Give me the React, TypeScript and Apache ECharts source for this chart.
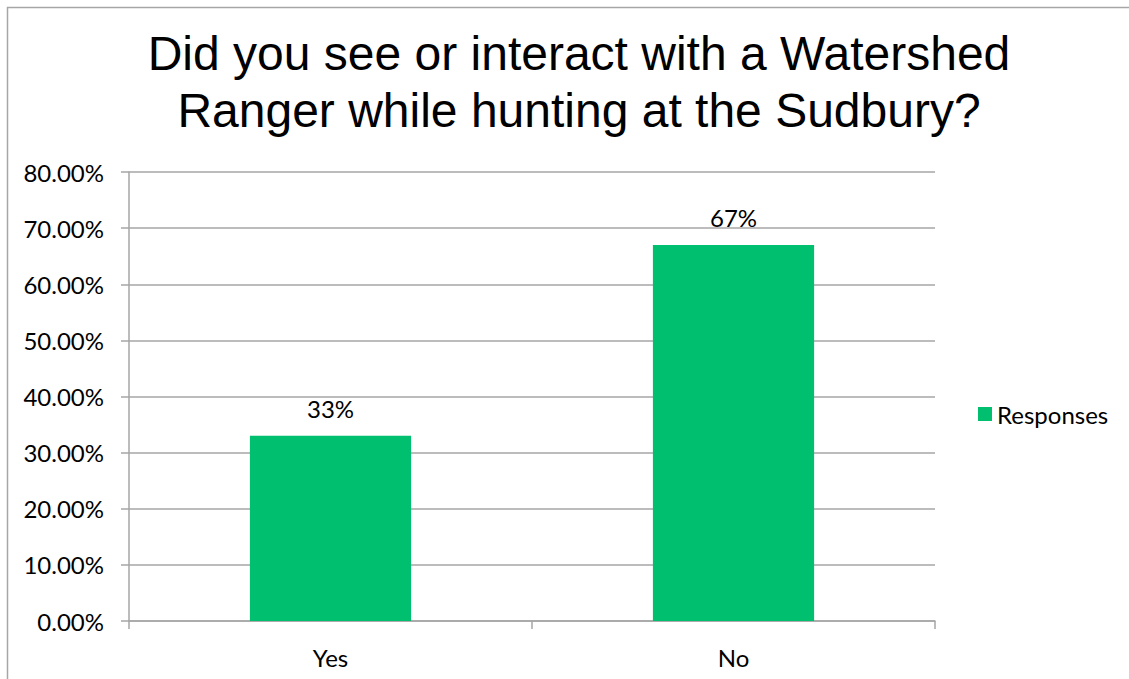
import React, { useEffect, useRef } from "react";
import * as echarts from "echarts";

const titleLines = ["Did you see or interact with a Watershed", "Ranger while hunting at the Sudbury?"];
const categories = ["Yes", "No"];
const seriesName = "Responses";
const values = [33, 67];
const yMin = 0;
const yMax = 80;
const yInterval = 10;

export default function App() {
  const ref = useRef<HTMLDivElement>(null);
  useEffect(() => {
    document.body.style.margin = "0";
    const chart = echarts.init(ref.current!, null, { renderer: "svg" });
    const labelFont = "Lato, 'Liberation Sans', sans-serif";
    chart.setOption({
      animation: false,
      backgroundColor: "#ffffff",
      title: {
        text: titleLines.join("\n"),
        left: 574,
        top: 20,
        textAlign: "center",
        textStyle: {
          fontFamily: "'Liberation Sans', Arial, sans-serif",
          fontSize: 48,
          fontWeight: "normal",
          color: "#000000",
          lineHeight: 57,
        },
      },
      graphic: [
        {
          type: "rect",
          shape: { x: 7.5, y: 7.5, width: 1140, height: 700 },
          style: { fill: "none", stroke: "#a6a6a6", lineWidth: 1.5 },
          silent: true,
        },
      ],
      legend: {
        data: [seriesName],
        left: 973,
        top: 397,
        itemWidth: 14,
        itemHeight: 14,
        itemGap: 8,
        icon: "rect",
        textStyle: { fontFamily: labelFont, fontSize: 24, color: "#000000" },
      },
      grid: { left: 129, top: 172, width: 806, height: 449, containLabel: false },
      xAxis: {
        type: "category",
        data: categories,
        axisLine: { show: true, lineStyle: { color: "#a6a6a6", width: 1.5 } },
        axisTick: { show: true, length: 8, lineStyle: { color: "#a6a6a6", width: 1.5 } },
        axisLabel: { fontFamily: labelFont, fontSize: 24, color: "#000000", margin: 24 },
      },
      yAxis: {
        type: "value",
        min: yMin,
        max: yMax,
        interval: yInterval,
        axisLine: { show: true, lineStyle: { color: "#a6a6a6", width: 1.5 } },
        axisTick: { show: true, length: 8, lineStyle: { color: "#a6a6a6", width: 1.5 } },
        splitLine: { show: true, lineStyle: { color: "#a6a6a6", width: 1.5 } },
        axisLabel: {
          fontFamily: labelFont,
          fontSize: 24,
          color: "#000000",
          margin: 25,
          formatter: (v: number) => v.toFixed(2) + "%",
        },
      },
      series: [
        {
          name: seriesName,
          type: "bar",
          data: values,
          barWidth: "40%",
          itemStyle: { color: "#00bf6f" },
          label: {
            show: true,
            position: "top",
            distance: 15,
            fontFamily: labelFont,
            fontSize: 24,
            color: "#000000",
            formatter: (p: any) => p.value + "%",
          },
        },
      ],
    });
    return () => chart.dispose();
  }, []);
  return <div ref={ref} style={{ width: 1129, height: 679 }} />;
}
